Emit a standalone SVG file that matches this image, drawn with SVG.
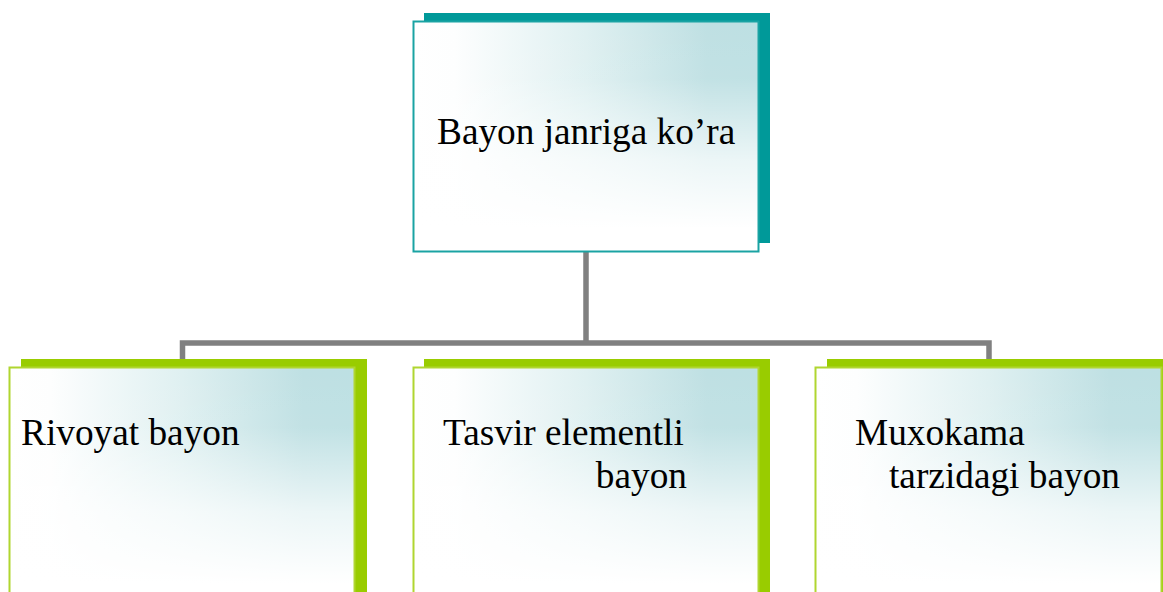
<svg xmlns="http://www.w3.org/2000/svg" width="1163" height="592" viewBox="0 0 1163 592">
<style>
.txt{font-family:"Liberation Serif","Times New Roman",serif;font-size:37.3px;fill:#000}
.conn{stroke:#808080;stroke-width:5.5;fill:none}
.fb{fill:url(#gh)}
.fv{fill:url(#gv)}
</style>
<defs>
<linearGradient id="gh" x1="0" y1="0" x2="1" y2="0">
<stop offset="0" stop-color="#ffffff"/>
<stop offset="0.12" stop-color="#fdfefe"/>
<stop offset="0.5" stop-color="#dff0f1"/>
<stop offset="0.85" stop-color="#bfe0e3"/>
<stop offset="1" stop-color="#bde0e3"/>
</linearGradient>
<linearGradient id="gv" x1="0" y1="0" x2="0" y2="1">
<stop offset="0" stop-color="#ffffff" stop-opacity="0"/>
<stop offset="0.25" stop-color="#ffffff" stop-opacity="0.05"/>
<stop offset="0.6" stop-color="#ffffff" stop-opacity="0.7"/>
<stop offset="0.9" stop-color="#ffffff" stop-opacity="1"/>
</linearGradient>
</defs>
<rect width="1163" height="592" fill="#fff"/>
<g id="connectors">
<path class="conn" d="M586 252 V343 M182.5 362 V343 H989 V362"/>
</g>
<g id="top">
<rect x="424" y="13" width="346" height="230" fill="#009999"/>
<rect class="fb" x="413.5" y="21.5" width="345" height="230"/>
<rect class="fv" x="413.5" y="21.5" width="345" height="230" stroke="#1aa3a3" stroke-width="2"/>
<text class="txt" x="437" y="144">Bayon janriga ko’ra</text>
</g>
<g id="rivoyat">
<rect x="21" y="359" width="346" height="240" fill="#99cc00"/>
<rect class="fb" x="9.5" y="367.5" width="345" height="240"/>
<rect class="fv" x="9.5" y="367.5" width="345" height="240" stroke="#b0d630" stroke-width="2"/>
<text class="txt" x="21" y="445">Rivoyat bayon</text>
</g>
<g id="tasvir">
<rect x="424" y="359" width="346" height="240" fill="#99cc00"/>
<rect class="fb" x="413.5" y="367.5" width="345" height="240"/>
<rect class="fv" x="413.5" y="367.5" width="345" height="240" stroke="#b0d630" stroke-width="2"/>
<text class="txt" x="443" y="445">Tasvir elementli</text>
<text class="txt" x="687" y="488" text-anchor="end">bayon</text>
</g>
<g id="muxokama">
<rect x="827" y="359" width="346" height="240" fill="#99cc00"/>
<rect class="fb" x="815.5" y="367.5" width="346" height="240"/>
<rect class="fv" x="815.5" y="367.5" width="346" height="240" stroke="#b0d630" stroke-width="2"/>
<text class="txt" x="855" y="445">Muxokama</text>
<text class="txt" x="889" y="488">tarzidagi bayon</text>
</g>
</svg>
